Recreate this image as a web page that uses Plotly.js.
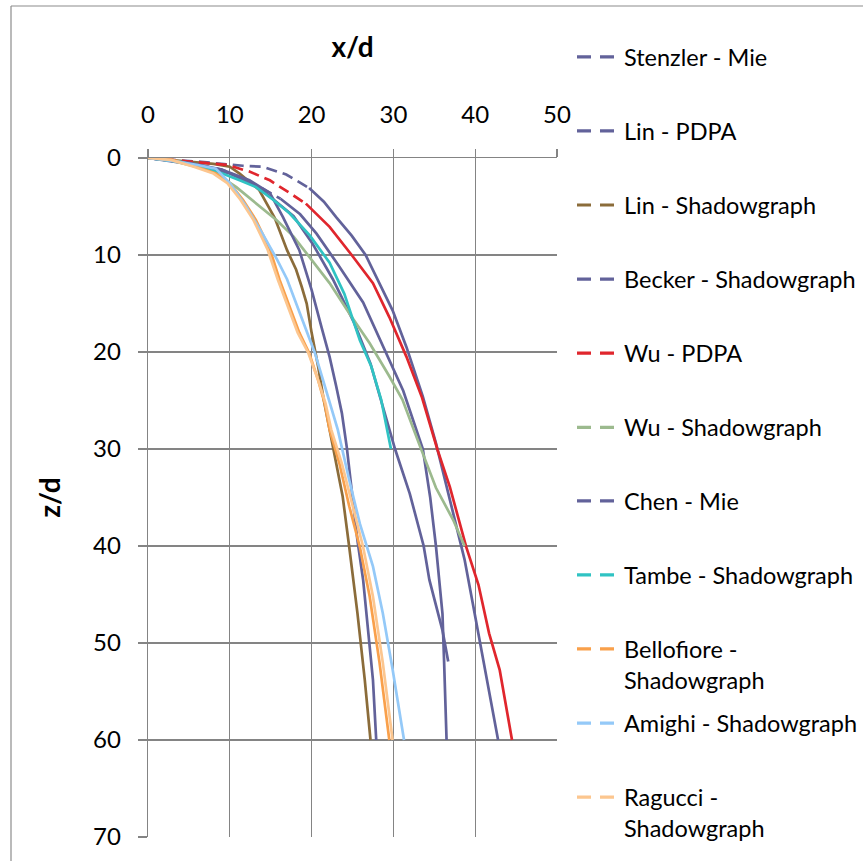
<!DOCTYPE html>
<html>
<head>
<meta charset="utf-8">
<script src="https://cdn.plot.ly/plotly-3.0.1.min.js"></script>
<style>html,body{margin:0;padding:0;background:#fff;}#chart{width:863px;height:861px;}</style>
</head>
<body>
<div id="chart"></div>
<script>
// ---- Data (x/d, z/d) ----
const seriesNames = [
  "Stenzler - Mie", "Lin - PDPA", "Lin - Shadowgraph", "Becker - Shadowgraph",
  "Wu - PDPA", "Wu - Shadowgraph", "Chen - Mie", "Tambe - Shadowgraph",
  "Bellofiore -<br>Shadowgraph", "Amighi - Shadowgraph", "Ragucci -<br>Shadowgraph"
];

const stenzlerX = [0, 6.5, 11.6, 14.0, 16.9, 19.7, 21.5, 23.0, 24.9, 26.6, 28.3, 29.9, 31.6, 33.6, 35.2, 36.5, 37.7, 38.7, 39.7, 40.7, 41.7, 42.8];
const stenzlerZ = [0, 0.4, 0.8, 0.9, 1.7, 3.1, 4.5, 6.1, 8.0, 10.0, 12.9, 15.7, 19.5, 24.6, 29.4, 33.8, 38.0, 41.4, 45.9, 50.4, 55.2, 60.0];

const linPdpaX = [0, 5.0, 9.0, 12.4, 16.2, 18.6, 20.6, 23.4, 26.3, 29.0, 31.2, 33.6, 34.5, 35.2, 35.7, 36.0, 36.2, 36.5];
const linPdpaZ = [0, 0.5, 1.2, 2.4, 4.2, 5.8, 7.8, 11.2, 14.9, 20.0, 24.0, 30.0, 35.0, 40.0, 44.0, 47.0, 52.0, 60.0];

const linShadowX = [0, 4, 8, 10.0, 11.2, 13.6, 15.5, 17.0, 18.1, 18.8, 19.4, 20.0, 20.8, 21.5, 22.2, 23.0, 23.8, 24.6, 25.6, 26.5, 27.2];
const linShadowZ = [0, 0.3, 0.6, 0.9, 1.6, 3.3, 6.2, 9.5, 11.5, 13.3, 15.0, 18.0, 21.5, 25.0, 28.0, 31.5, 34.9, 40.1, 46.9, 53.8, 60.0];

const beckerX = [0, 5, 10, 13.5, 17.8, 20.1, 22.6, 25.2, 27.2, 28.5, 30.2, 32.0, 33.7, 34.4, 36.0, 36.7];
const beckerZ = [0, 0.6, 1.6, 3.0, 6.0, 8.8, 12.5, 17.0, 21.2, 24.9, 30.0, 34.6, 40.0, 43.5, 48.7, 51.9];

const wuPdpaX = [0, 1.4, 5.9, 9.6, 12.4, 14.9, 17.3, 19.3, 22.2, 24.9, 27.5, 29.5, 31.6, 33.5, 35.4, 36.9, 38.9, 40.4, 41.7, 43.0, 44.5];
const wuPdpaZ = [0, 0.1, 0.4, 0.7, 1.4, 2.3, 3.6, 4.7, 7.1, 10.0, 12.9, 16.4, 20.5, 24.7, 30.1, 33.9, 40.1, 44.0, 49.0, 52.8, 60.0];

const wuShadowX = [0, 3, 5.9, 8.3, 10.8, 13.2, 15.7, 17.8, 19.5, 22.2, 24.6, 27.1, 29.5, 31.1, 33.2, 35.2, 37.3, 38.7];
const wuShadowZ = [0, 0.3, 0.9, 1.6, 3.0, 4.7, 6.4, 8.1, 10.0, 12.9, 16.0, 19.1, 22.5, 24.9, 29.6, 34.0, 37.3, 40.0];

const chenX = [0, 5, 9, 12.4, 14.9, 16.5, 18.5, 20.0, 21.2, 22.2, 23.0, 23.7, 24.3, 25.0, 25.6, 26.3, 26.9, 27.5, 27.9];
const chenZ = [0, 0.5, 1.2, 2.3, 3.6, 6.1, 9.5, 13.6, 17.4, 20.5, 23.5, 26.3, 29.8, 34.9, 39.4, 43.5, 48.7, 53.8, 60.0];

const tambeX = [0, 4, 7.1, 9.1, 11.2, 13.2, 15.3, 17.3, 19.8, 22.2, 24.0, 25.9, 27.3, 28.5, 29.7];
const tambeZ = [0, 0.4, 1.1, 1.6, 2.3, 3.0, 4.3, 5.7, 8.0, 10.8, 14.0, 18.8, 21.5, 24.9, 30.0];

const bellofioreX = [0, 3.0, 5.9, 8.3, 10.0, 11.6, 13.2, 14.9, 16.1, 17.3, 18.5, 19.7, 20.8, 21.6, 22.2, 23.4, 24.6, 25.9, 27.1, 28.3, 29.5];
const bellofioreZ = [0, 0.2, 0.9, 1.6, 2.6, 4.3, 6.4, 9.4, 12.6, 15.3, 18.0, 20.1, 22.9, 25.3, 28.0, 31.5, 35.9, 40.1, 45.2, 52.0, 60.0];

const amighiX = [0, 3, 5.9, 8.3, 10.0, 12.0, 14.0, 15.8, 17.0, 18.1, 19.3, 20.4, 21.4, 22.4, 23.2, 24.6, 25.9, 27.5, 28.7, 29.9, 31.3];
const amighiZ = [0, 0.3, 0.7, 1.1, 2.6, 5.0, 7.8, 10.5, 12.5, 15.0, 17.7, 20.1, 22.9, 25.6, 28.0, 33.2, 37.7, 42.1, 46.9, 52.7, 60.0];

const ragucciX = [0, 2.8, 5.6, 8.0, 9.7, 11.3, 12.9, 14.6, 15.9, 17.1, 18.3, 19.6, 20.8, 21.7, 22.4, 23.7, 25.0, 26.3, 27.5, 28.7, 29.9];
const ragucciZ = [0, 0.2, 0.9, 1.6, 2.6, 4.3, 6.4, 9.4, 12.6, 15.3, 18.0, 20.1, 22.9, 25.3, 28.0, 31.5, 35.9, 40.1, 45.2, 52.0, 60.0];

const xTicks = [0, 10, 20, 30, 40, 50];
const zTicks = [0, 10, 20, 30, 40, 50, 60, 70];

// ---- Styles ----
const PURPLE = '#62629a';
const colors = [PURPLE, PURPLE, '#8b6c3a', PURPLE, '#e0262d', '#9cba8e', PURPLE, '#30c3c3', '#f9a04b', '#94c9f8', '#fcc68f'];
// number of leading (sparse) points drawn dashed, as the spreadsheet does near the nozzle
const dashedHead = [6, 5, 0, 0, 8, 0, 0, 0, 0, 0, 0];
const xs = [stenzlerX, linPdpaX, linShadowX, beckerX, wuPdpaX, wuShadowX, chenX, tambeX, bellofioreX, amighiX, ragucciX];
const zs = [stenzlerZ, linPdpaZ, linShadowZ, beckerZ, wuPdpaZ, wuShadowZ, chenZ, tambeZ, bellofioreZ, amighiZ, ragucciZ];

const traces = [];
for (let i = 0; i < xs.length; i++) {
  const h = dashedHead[i];
  const nm = seriesNames[i].replace('<br>', ' ');
  if (h > 1) {
    traces.push({
      type: 'scatter', mode: 'lines', x: xs[i].slice(0, h), y: zs[i].slice(0, h),
      name: nm, line: {color: colors[i], width: 2.7, dash: '11px,6px'},
      showlegend: false, hoverinfo: 'x+y+name'
    });
  }
  const s = h > 1 ? h - 1 : 0;
  traces.push({
    type: 'scatter', mode: 'lines', x: xs[i].slice(s), y: zs[i].slice(s),
    name: nm, line: {color: colors[i], width: 2.7},
    showlegend: false, hoverinfo: 'x+y+name'
  });
}
// legend entries (dashed samples as in the reference legend)
for (let i = 0; i < xs.length; i++) {
  const nm = seriesNames[i].indexOf('<br>') >= 0 ? seriesNames[i] : seriesNames[i] + '<br>\u00a0';
  traces.push({
    type: 'scatter', mode: 'lines', x: [null], y: [null],
    name: nm, legendgroup: 'g' + i,
    legend: i < 6 ? 'legend' : 'legend2',
    line: {color: colors[i], width: 3.2, dash: '14px,9px'},
    showlegend: true, hoverinfo: 'skip'
  });
}

const FONT = 'Lato, "Open Sans", sans-serif';
const GRID = '#848484';
const legendCommon = {
  xref: 'container', yref: 'container', xanchor: 'left', yanchor: 'top',
  font: {family: FONT, size: 23.5, color: '#000'},
  tracegroupgap: 10, traceorder: 'grouped', valign: 'top',
  bgcolor: 'rgba(0,0,0,0)', borderwidth: 0, itemwidth: 42
};

const layout = {
  width: 863, height: 861,
  margin: {l: 148, r: 306, t: 158, b: 24, autoexpand: false},
  paper_bgcolor: '#fff', plot_bgcolor: '#fff',
  font: {family: FONT, color: '#000'},
  showlegend: true,
  legend: Object.assign({}, legendCommon, {x: 572 / 863, y: 1 - 35 / 861}),
  legend2: Object.assign({}, legendCommon, {x: 572 / 863, y: 1 - 479 / 861}),
  xaxis: {
    side: 'top', range: [0, 50], autorange: false, tickvals: xTicks,
    showgrid: true, gridcolor: GRID, gridwidth: 1.3,
    showline: true, linecolor: GRID, linewidth: 1.3,
    ticks: 'outside', ticklen: 8, tickcolor: GRID, tickwidth: 1.3,
    ticklabelstandoff: 16,
    tickfont: {family: FONT, size: 24, color: '#000'},
    zeroline: false,
    title: {text: '<b>x/d</b>', font: {family: FONT, size: 28, color: '#000'}, standoff: 33}
  },
  yaxis: {
    range: [70, 0], autorange: false, tickvals: zTicks,
    showgrid: true, gridcolor: GRID, gridwidth: 1.3,
    showline: true, linecolor: GRID, linewidth: 1.3,
    ticks: 'outside', ticklen: 9, tickcolor: GRID, tickwidth: 1.3,
    ticklabelstandoff: 12,
    tickfont: {family: FONT, size: 24, color: '#000'},
    zeroline: false,
    title: {text: '<b>z/d</b>', font: {family: FONT, size: 28, color: '#000'}, standoff: 24}
  },
  shapes: [
    {type: 'line', xref: 'paper', yref: 'paper', x0: (11 - 148) / 409, x1: (11 - 148) / 409,
     y0: (837 - 6) / 679, y1: (837 - 870) / 679, line: {color: '#8c8c8c', width: 1.2}},
    {type: 'line', xref: 'paper', yref: 'paper', x0: (11 - 148) / 409, x1: (870 - 148) / 409,
     y0: (837 - 6) / 679, y1: (837 - 6) / 679, line: {color: '#8c8c8c', width: 1.2}}
  ]
};

Plotly.newPlot('chart', traces, layout, {staticPlot: true, displayModeBar: false});
</script>
</body>
</html>
